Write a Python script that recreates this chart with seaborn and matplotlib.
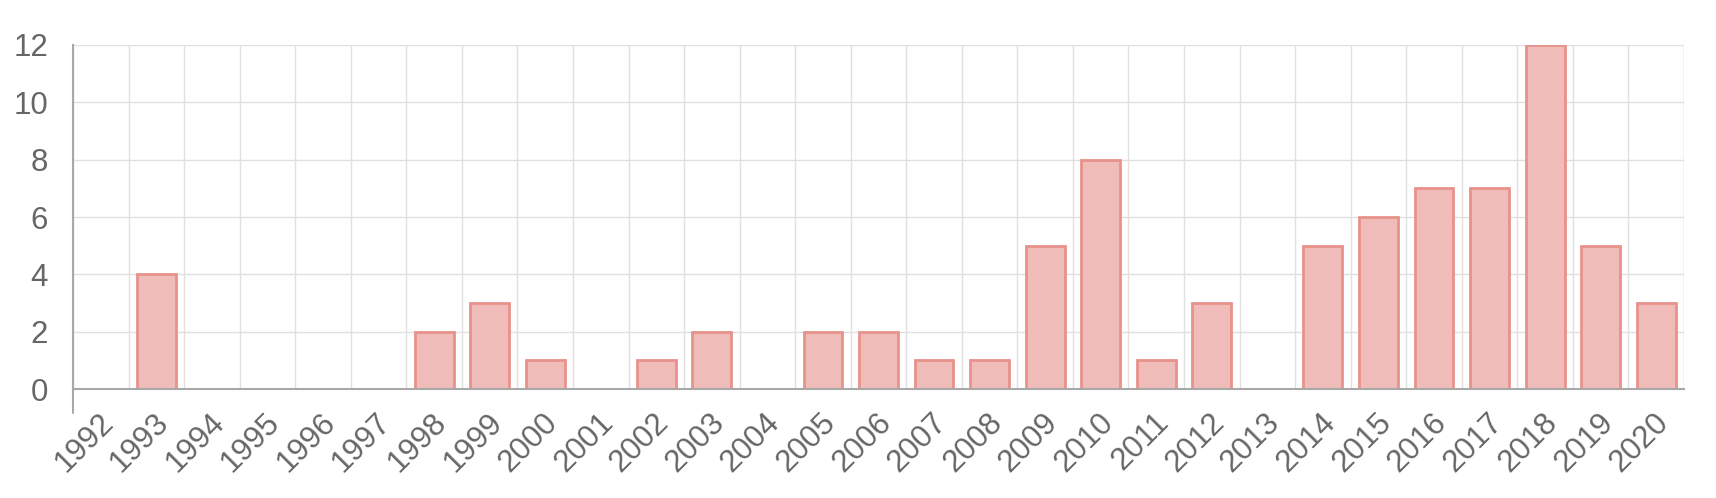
import numpy as np
import pandas as pd
import seaborn as sns
import matplotlib
matplotlib.use("Agg")
import matplotlib.pyplot as plt
import matplotlib.transforms as mtransforms

# counts per year
years = [str(y) for y in range(1992, 2021)]
counts = [0, 4, 0, 0, 0, 0, 2, 3, 1, 0, 1, 2, 0, 2, 2, 1, 1, 5, 8, 1, 3, 0,
          5, 6, 7, 7, 12, 5, 3]
y_ticks = [0, 2, 4, 6, 8, 10, 12]

df = pd.DataFrame({"year": years, "count": counts})

sns.set_style("white")
plt.rcParams["font.family"] = ["Liberation Sans", "DejaVu Sans"]

fig = plt.figure(figsize=(17.16, 4.98), dpi=100)
ax = fig.add_axes([73 / 1716, 1 - 389 / 498, (1684 - 73) / 1716, 344 / 498])

sns.barplot(data=df, x="year", y="count", ax=ax, width=0.7,
            color="#efbcb9", saturation=1, edgecolor="#e8928c", linewidth=2)

ax.set_ylim(0, 12)
ax.set_xlim(-0.5, len(years) - 0.5)
ax.set_xlabel("")
ax.set_ylabel("")

grid_c = "#e0e0e0"
axis_c = "#a8a8a8"
label_c = "#666666"

# y axis
ax.set_yticks(y_ticks)
ax.set_yticklabels([str(v) for v in y_ticks], fontsize=22.5, color=label_c)
ax.tick_params(axis="y", which="major", length=18, width=1, color=grid_c, pad=0)
ax.yaxis.grid(True, color=grid_c, linewidth=1)

# x axis: labels at category centres, grid lines between categories
ax.set_xticks(range(len(years)))
ax.set_xticklabels(years, rotation=45, ha="right", va="center",
                   rotation_mode="anchor", fontsize=22.5, color=label_c)
ax.tick_params(axis="x", which="major", length=0, pad=21)
shift = mtransforms.ScaledTranslation(8 / 100, 0, fig.dpi_scale_trans)
for lab in ax.get_xticklabels():
    lab.set_transform(lab.get_transform() + shift)
ax.set_xticks(np.arange(-0.5, len(years), 1.0), minor=True)
ax.tick_params(axis="x", which="minor", length=18, width=1, color=grid_c)
ax.xaxis.grid(True, which="minor", color=grid_c, linewidth=1)
ax.xaxis.grid(False, which="major")
ax.set_axisbelow(True)

for side in ["top", "right"]:
    ax.spines[side].set_visible(False)
ax.spines["left"].set_color(axis_c)
ax.spines["bottom"].set_color(axis_c)
ax.spines["left"].set_linewidth(1.5)
ax.spines["bottom"].set_linewidth(1.5)

# y axis line continues down to the tick marks
ax.plot([-0.5, -0.5], [0, -0.85], color=axis_c, linewidth=1.5,
        clip_on=False, zorder=3)
ax.axvline(len(years) - 0.5, color=grid_c, linewidth=1, zorder=0)

fig.savefig("out.png", dpi=100)
